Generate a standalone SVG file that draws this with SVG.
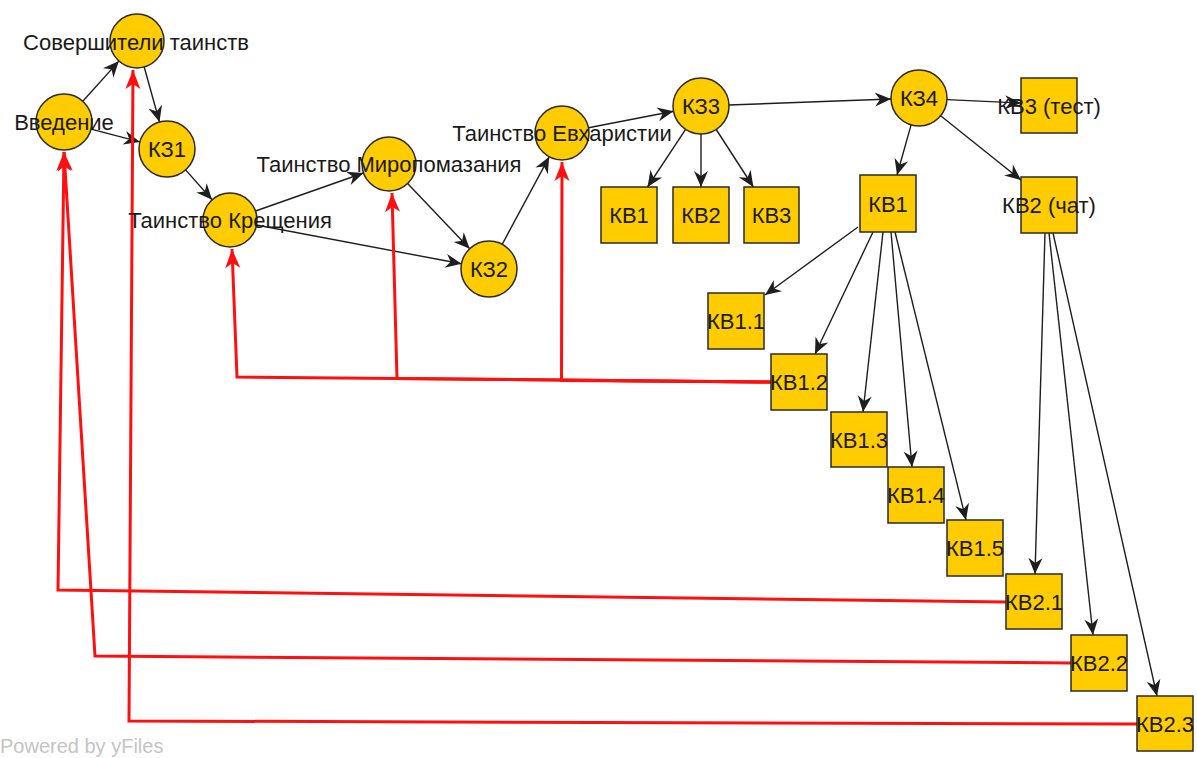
<svg xmlns="http://www.w3.org/2000/svg" width="1197" height="758" viewBox="0 0 1197 758">
<style>
.n{fill:#FFCC00;stroke:#2a2a2a;stroke-width:1.5}
.t{font-family:"Liberation Sans",Arial,sans-serif;font-size:22px;fill:#1a1a1a;text-anchor:middle}
.e{fill:none;stroke:#1e1e1e;stroke-width:1.4;marker-end:url(#ab)}
.r{fill:none;stroke:#ff1010;stroke-width:3;stroke-linejoin:miter;marker-end:url(#ar)}
.wm{font-family:"Liberation Sans",Arial,sans-serif;font-size:20px;fill:#c4c4c4}
</style>
<defs>
<marker id="ab" markerUnits="userSpaceOnUse" viewBox="-18 -8 19 16" refX="0" refY="0" markerWidth="19" markerHeight="16" orient="auto">
<path d="M0,0 L-16,-7 L-11,0 L-16,7 Z" fill="#1e1e1e"/>
</marker>
<marker id="ar" markerUnits="userSpaceOnUse" viewBox="-20 -9 21 18" refX="0" refY="0" markerWidth="21" markerHeight="18" orient="auto">
<path d="M0,0 L-19,-7.5 L-14,0 L-19,7.5 Z" fill="#ff1010"/>
</marker>
</defs>
<rect width="1197" height="758" fill="#ffffff"/>
<g id="connectors">
<path class="e" d="M82.8,101.2 L118.9,61.1"/>
<path class="e" d="M91.1,129.1 L139.9,141.9"/>
<path class="e" d="M144.2,67 L159.5,122"/>
<path class="e" d="M185.6,169.9 L212.1,199.8"/>
<path class="e" d="M255.5,211 L363.5,173"/>
<path class="e" d="M256.5,225 L461.5,263.8"/>
<path class="e" d="M407.6,183.5 L469.7,248.7"/>
<path class="e" d="M502.2,244.3 L549.2,156.8"/>
<path class="e" d="M588.5,127.8 L673.5,111.3"/>
<path class="e" d="M729,105 L891,99"/>
<path class="e" d="M685.6,129.4 L647.5,187"/>
<path class="e" d="M701,134 L701,187"/>
<path class="e" d="M716.2,129.5 L753.4,187"/>
<path class="e" d="M947,99.6 L1021,103"/>
<path class="e" d="M911.1,124.9 L897,175"/>
<path class="e" d="M940.6,115.8 L1021,180"/>
<path class="e" d="M858,227 L765,295"/>
<path class="e" d="M873,232 L815,354"/>
<path class="e" d="M883,232 L863,412"/>
<path class="e" d="M891,232 L912,467"/>
<path class="e" d="M895,232 L966,520"/>
<path class="e" d="M1045,233 L1035,574"/>
<path class="e" d="M1049,233 L1093,635"/>
<path class="e" d="M1053,233 L1157,696"/>
<path class="r" d="M771,382 L237,377 L232,249"/>
<path class="r" d="M771,382 L397,378.5 L392,193"/>
<path class="r" d="M771,382 L561.5,380.5 L562,162"/>
<path class="r" d="M1006,602 L58,590 L64,152"/>
<path class="r" d="M1071,663 L95,656 L64,152"/>
<path class="r" d="M1137,724 L129,721 L133,70"/>
</g>
<g id="n-vvedenie"><circle class="n" cx="64" cy="122" r="28"/><text class="t" x="64" y="130">Введение</text></g>
<g id="n-sovershiteli"><circle class="n" cx="137" cy="41" r="27"/><text class="t" x="136" y="49.5">Совершители таинств</text></g>
<g id="n-kz1"><circle class="n" cx="167" cy="149" r="28"/><text class="t" x="167" y="157">КЗ1</text></g>
<g id="n-kreshenie"><circle class="n" cx="230" cy="220" r="27"/><text class="t" x="230" y="228">Таинство Крещения</text></g>
<g id="n-miropomazanie"><circle class="n" cx="389" cy="164" r="27"/><text class="t" x="389" y="172">Таинство Миропомазания</text></g>
<g id="n-kz2"><circle class="n" cx="489" cy="269" r="28"/><text class="t" x="489" y="277">КЗ2</text></g>
<g id="n-evharistiya"><circle class="n" cx="562" cy="133" r="27"/><text class="t" x="562" y="141">Таинство Евхаристии</text></g>
<g id="n-kz3"><circle class="n" cx="701" cy="106" r="28"/><text class="t" x="701" y="114">КЗ3</text></g>
<g id="n-kz4"><circle class="n" cx="919" cy="98" r="28"/><text class="t" x="919" y="106">КЗ4</text></g>
<g id="n-kv1a"><rect class="n" x="601" y="187" width="56" height="56"/><text class="t" x="629" y="223">КВ1</text></g>
<g id="n-kv2a"><rect class="n" x="673" y="187" width="56" height="56"/><text class="t" x="701" y="223">КВ2</text></g>
<g id="n-kv3a"><rect class="n" x="744" y="187" width="55" height="56"/><text class="t" x="771.5" y="223">КВ3</text></g>
<g id="n-kv3test"><rect class="n" x="1021" y="78" width="56" height="55"/><text class="t" x="1049" y="113.5">КВ3 (тест)</text></g>
<g id="n-kv1"><rect class="n" x="860" y="175" width="56" height="57"/><text class="t" x="888" y="211.5">КВ1</text></g>
<g id="n-kv2chat"><rect class="n" x="1021" y="177" width="56" height="56"/><text class="t" x="1049" y="213">КВ2 (чат)</text></g>
<g id="n-kv11"><rect class="n" x="708" y="293" width="56" height="56"/><text class="t" x="736" y="329">КВ1.1</text></g>
<g id="n-kv12"><rect class="n" x="771" y="354" width="56" height="56"/><text class="t" x="799" y="390">КВ1.2</text></g>
<g id="n-kv13"><rect class="n" x="831" y="412" width="56" height="55"/><text class="t" x="859" y="447.5">КВ1.3</text></g>
<g id="n-kv14"><rect class="n" x="888" y="467" width="56" height="56"/><text class="t" x="916" y="503">КВ1.4</text></g>
<g id="n-kv15"><rect class="n" x="947" y="520" width="56" height="56"/><text class="t" x="975" y="556">КВ1.5</text></g>
<g id="n-kv21"><rect class="n" x="1006" y="574" width="56" height="55"/><text class="t" x="1034" y="609.5">КВ2.1</text></g>
<g id="n-kv22"><rect class="n" x="1071" y="635" width="56" height="56"/><text class="t" x="1099" y="671">КВ2.2</text></g>
<g id="n-kv23"><rect class="n" x="1137" y="696" width="56" height="55"/><text class="t" x="1165" y="731.5">КВ2.3</text></g>
<text class="wm" x="0" y="753">Powered by yFiles</text>
</svg>
